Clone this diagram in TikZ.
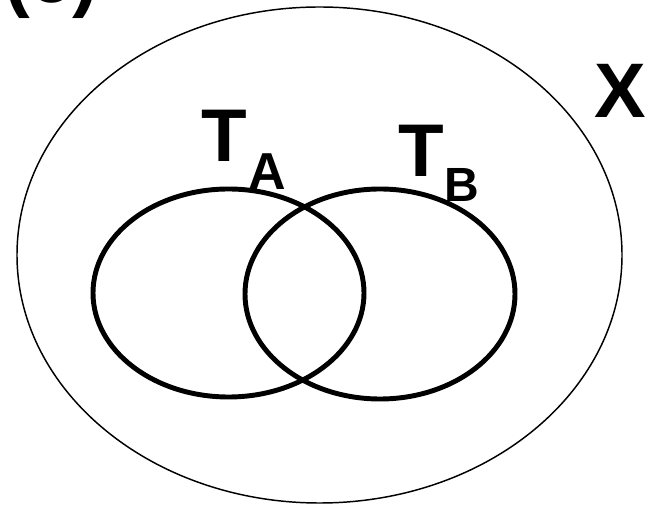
\documentclass[tikz,border=0pt]{standalone}
\usepackage{fontspec}
\setmainfont{Liberation Sans}
\begin{document}
\begin{tikzpicture}[x=0.75pt,y=-0.75pt,
  lbl/.style={inner sep=0pt,outer sep=0pt,anchor=base west,font=\bfseries},
  thinring/.style={draw=black,line width=1.1pt},
  thickring/.style={draw=black,line width=3.7pt}]
\useasboundingbox (0,0) rectangle (653,505);
\fill[white] (0,0) rectangle (653,505);
% outer set X
\draw[thinring] (319.5,255) ellipse [x radius=302.5, y radius=248];
% inner sets
\draw[thickring] (228.5,293) ellipse [x radius=135.5, y radius=104];
\draw[thickring] (380,294) ellipse [x radius=135, y radius=105];
% labels
\node[lbl] (tA) at (201,162) {\fontsize{56pt}{60pt}\selectfont T};
\node[lbl] (sA) at (248,190) {\fontsize{39pt}{42pt}\selectfont A};
\node[lbl] (tB) at (398,177) {\fontsize{56pt}{60pt}\selectfont T};
\node[lbl] (sB) at (444,202) {\fontsize{36pt}{40pt}\selectfont B};
\node[lbl] (X) at (594,118) {\fontsize{58pt}{62pt}\selectfont X};
\node[lbl] (cap) at (4,3) {\fontsize{58pt}{62pt}\selectfont (c)};
\end{tikzpicture}
\end{document}
